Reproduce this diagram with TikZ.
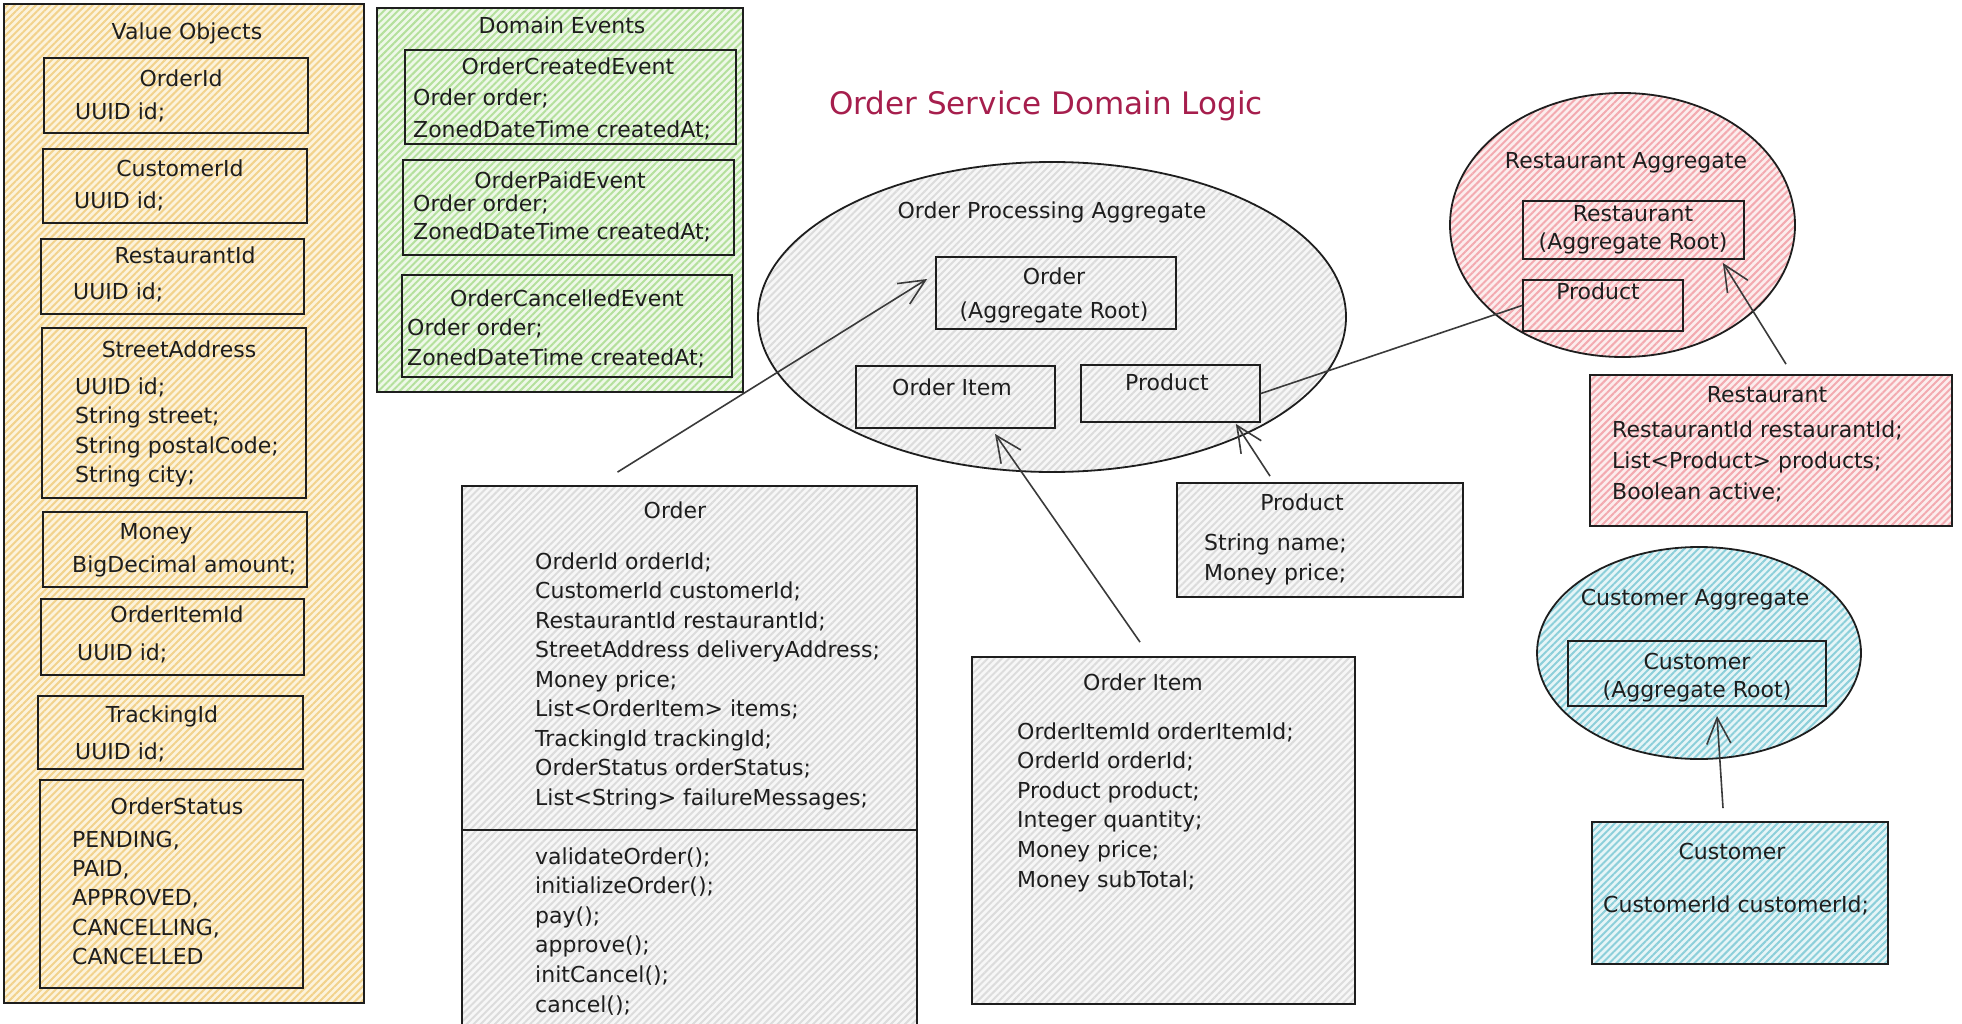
\documentclass[tikz,border=0pt]{standalone}
\usepackage{fontspec}
\setmainfont{DejaVu Sans}
\usetikzlibrary{arrows.meta,patterns.meta,shapes.geometric,fit}
\definecolor{ink}{HTML}{1E1E1E}
\definecolor{lineclr}{HTML}{3A3A3A}
\definecolor{titleclr}{HTML}{A61E4D}
\definecolor{ybase}{HTML}{FCF3DC}
\definecolor{yline}{HTML}{F2D28C}
\definecolor{gbase}{HTML}{EEF8E8}
\definecolor{gline}{HTML}{B4E09C}
\definecolor{kbase}{HTML}{F7F7F7}
\definecolor{kline}{HTML}{DCDCDC}
\definecolor{rbase}{HTML}{FCEDED}
\definecolor{rline}{HTML}{F3AAB0}
\definecolor{cbase}{HTML}{E6F5F7}
\definecolor{cline}{HTML}{8CCFDA}
\tikzset{
  hatch/.style 2 args={preaction={fill=#1}, pattern={Lines[angle=45,distance=5pt,line width=2pt]}, pattern color=#2},
  box/.style={rectangle, draw=ink, line width=1.8pt, inner sep=0pt},
  ybox/.style={box, hatch={ybase}{yline}},
  gbox/.style={box, hatch={gbase}{gline}},
  kbox/.style={box, hatch={kbase}{kline}},
  rbox/.style={box, hatch={rbase}{rline}},
  cbox/.style={box, hatch={cbase}{cline}},
  ell/.style={ellipse, draw=ink, line width=1.8pt, inner sep=0pt},
  txt/.style={font=\fontsize{22pt}{29.5pt}\selectfont, text=ink, inner sep=0pt, text height=14pt, text depth=0pt},
  ttl/.style={font=\fontsize{31pt}{36pt}\selectfont, text=titleclr, inner sep=0pt, text height=20pt, text depth=0pt},
  arr/.style={draw=lineclr, line width=1.6pt, -{Straight Barb[length=26pt,width=24pt,line width=1.6pt]}},
  conn/.style={draw=lineclr, line width=1.6pt},
}
\newcommand\bx[6]{\node[#2, fit={(#3,#4) (#5,#6)}] (#1) {};}
\newcommand\txtlines[5]{\foreach \lineTxt [count=\i] in {#5} {\node[txt, anchor=west] (#1-\i) at (#2, {#3+(\i-1)*#4}) {\lineTxt};}}
\begin{document}
\begin{tikzpicture}[x=1pt, y=-1pt]
\useasboundingbox (0,0) rectangle (1962,1024);
\fill[white] (0,0) rectangle (1962,1024);
\clip (0,0) rectangle (1962,1024);

% Value Objects
\bx{vo}{ybox}{4}{4}{364}{1003}
\bx{voOrderId}{ybox}{44}{58}{308}{133}
\bx{voCustomerId}{ybox}{43}{149}{307}{223}
\bx{voRestaurantId}{ybox}{41}{239}{304}{314}
\bx{voStreet}{ybox}{42}{328}{306}{498}
\bx{voMoney}{ybox}{43}{512}{307}{587}
\bx{voOrderItemId}{ybox}{41}{599}{304}{675}
\bx{voTracking}{ybox}{38}{696}{303}{769}
\bx{voStatus}{ybox}{40}{780}{303}{988}

% Domain Events
\bx{de}{gbox}{377}{8}{743}{392}
\bx{deCreated}{gbox}{405}{50}{736}{144}
\bx{dePaid}{gbox}{403}{160}{734}{255}
\bx{deCancelled}{gbox}{402}{275}{732}{377}

% Order processing aggregate
\node[ell, hatch={kbase}{kline}, minimum width=588pt, minimum height=310pt] (opa) at (1052,317) {};
\bx{orderAR}{kbox}{936}{257}{1176}{329}
\bx{oitemBox}{kbox}{856}{366}{1055}{428}
\bx{prodBox}{kbox}{1081}{365}{1260}{422}

% Restaurant aggregate
\node[ell, hatch={rbase}{rline}, minimum width=345pt, minimum height=264pt] (ra) at (1622.5,225) {};
\bx{rAR}{rbox}{1523}{201}{1744}{259}
\bx{rProd}{rbox}{1523}{280}{1683}{331}

% Customer aggregate
\node[ell, hatch={cbase}{cline}, minimum width=324pt, minimum height=212pt] (ca) at (1699,653) {};
\bx{cAR}{cbox}{1568}{641}{1826}{706}

% Classes
\bx{orderCls}{kbox}{462}{486}{917}{1040}
\draw[ink, line width=1.8pt] (orderCls.west |- 0,830) coordinate (divL) -- (orderCls.east |- 0,830) coordinate (divR);
\bx{prodCls}{kbox}{1177}{483}{1463}{597}
\bx{oiCls}{kbox}{972}{657}{1355}{1004}
\bx{restCls}{rbox}{1590}{375}{1952}{526}
\bx{custCls}{cbox}{1592}{822}{1888}{964}

% Connectors
\draw[arr] ([shift={(-72,-13)}]orderCls.north) -- ([shift={(-8,-14)}]orderAR.west);
\draw[arr] ([shift={(-23.5,-14)}]oiCls.north) -- ([shift={(39.5,5)}]oitemBox.south);
\draw[arr] ([shift={(-50,-6)}]prodCls.north) -- ([shift={(-25,1)}]prodBox.south east);
\draw[conn] (prodBox.east) -- (rProd.west);
\draw[arr] ([shift={(15,-10)}]restCls.north) -- ([shift={(-22,3)}]rAR.south east);
\draw[arr] ([shift={(-17,-13)}]custCls.north) -- ([shift={(20,9)}]cAR.south);

% Title
\node[ttl] (title) at (1046,105) {Order Service Domain Logic};

% Value Objects texts
\node[txt] (tVo) at (187,33) {Value Objects};
\node[txt] (tOrderId) at (181,80) {OrderId};
\txtlines{lOrderId}{75}{113}{29.5}{UUID id;}
\node[txt] (tCustomerId) at (180,170) {CustomerId};
\txtlines{lCustomerId}{74}{202}{29.5}{UUID id;}
\node[txt] (tRestaurantId) at (185,257) {RestaurantId};
\txtlines{lRestaurantId}{73}{293}{29.5}{UUID id;}
\node[txt] (tStreet) at (179,350) {StreetAddress};
\txtlines{lStreet}{75}{387}{29.5}{UUID id;,String street;,String postalCode;,String city;}
\node[txt] (tMoney) at (156,532) {Money};
\txtlines{lMoney}{72}{565}{29.5}{BigDecimal amount;}
\node[txt] (tOrderItemId) at (177,615) {OrderItemId};
\txtlines{lOrderItemId}{77}{653}{29.5}{UUID id;}
\node[txt] (tTracking) at (162,715) {TrackingId};
\txtlines{lTracking}{75}{752}{29.5}{UUID id;}
\node[txt] (tStatus) at (177,807) {OrderStatus};
\txtlines{lStatus}{72}{840}{29.4}{{PENDING,},{PAID,},{APPROVED,},{CANCELLING,},CANCELLED}

% Domain events texts
\node[txt] (tDe) at (562,27) {Domain Events};
\node[txt] (tCreated) at (568,68) {OrderCreatedEvent};
\txtlines{lCreated}{413}{99}{32}{Order order;,ZonedDateTime createdAt;}
\node[txt] (tPaid) at (560,182) {OrderPaidEvent};
\txtlines{lPaid}{413}{205}{28}{Order order;,ZonedDateTime createdAt;}
\node[txt] (tCancelled) at (567,300) {OrderCancelledEvent};
\txtlines{lCancelled}{407}{328}{30}{Order order;,ZonedDateTime createdAt;}

% Aggregates texts
\node[txt] (tOpa) at (1052,212) {Order Processing Aggregate};
\node[txt] (tOrderAR1) at (1054,277) {Order};
\node[txt] (tOrderAR2) at (1054,312) {(Aggregate Root)};
\node[txt] (tOitemBox) at (952,388) {Order Item};
\node[txt] (tProdBox) at (1167,383) {Product};
\node[txt] (tRa) at (1626,162) {Restaurant Aggregate};
\node[txt] (tRAR1) at (1633,215) {Restaurant};
\node[txt] (tRAR2) at (1633,243) {(Aggregate Root)};
\node[txt] (tRProd) at (1598,293) {Product};
\node[txt] (tCa) at (1695,598) {Customer Aggregate};
\node[txt] (tCAR1) at (1697,662) {Customer};
\node[txt] (tCAR2) at (1697,690) {(Aggregate Root)};

% Class texts
\node[txt] (tOrderCls) at (675,511) {Order};
\txtlines{lOrderAttr}{535}{562}{29.5}{OrderId orderId;,CustomerId customerId;,RestaurantId restaurantId;,StreetAddress deliveryAddress;,Money price;,List<OrderItem> items;,TrackingId trackingId;,OrderStatus orderStatus;,List<String> failureMessages;}
\txtlines{lOrderMeth}{535}{857}{29.6}{validateOrder();,initializeOrder();,pay();,approve();,initCancel();,cancel();}
\node[txt] (tOiCls) at (1143,683) {Order Item};
\txtlines{lOiCls}{1017}{732}{29.6}{OrderItemId orderItemId;,OrderId orderId;,Product product;,Integer quantity;,Money price;,Money subTotal;}
\node[txt] (tProdCls) at (1302,503) {Product};
\txtlines{lProdCls}{1204}{543}{30}{String name;,Money price;}
\node[txt] (tRestCls) at (1767,395) {Restaurant};
\txtlines{lRestCls}{1612}{430}{31}{RestaurantId restaurantId;,List<Product> products;,Boolean active;}
\node[txt] (tCustCls) at (1732,852) {Customer};
\txtlines{lCustCls}{1603}{905}{30}{CustomerId customerId;}
\end{tikzpicture}
\end{document}
